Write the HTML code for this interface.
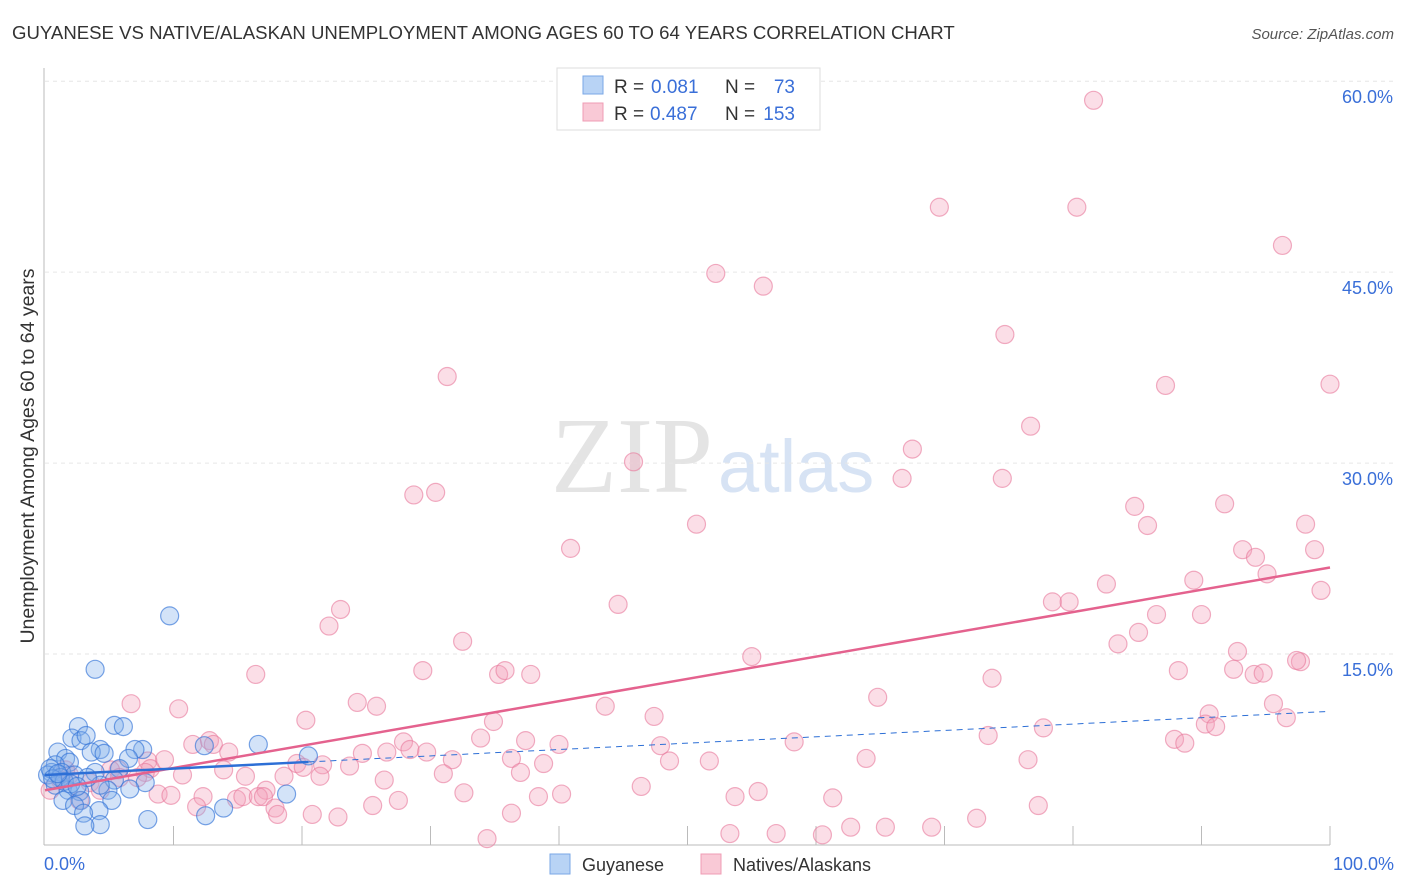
<!DOCTYPE html>
<html><head><meta charset="utf-8"><style>
body{margin:0;background:#fff;font-family:"Liberation Sans",sans-serif;}
svg{display:block}
</style></head><body>
<svg id="chart" width="1406" height="892">
<text x="12" y="39" font-size="18.6" fill="#333">GUYANESE VS NATIVE/ALASKAN UNEMPLOYMENT AMONG AGES 60 TO 64 YEARS CORRELATION CHART</text>
<text x="1394" y="39" font-size="15" fill="#555" font-style="italic" text-anchor="end">Source: ZipAtlas.com</text>
<text x="713" y="492" font-size="108" fill="#e4e4e4" text-anchor="end" font-family="Liberation Serif,serif">ZIP</text>
<text x="718" y="492" font-size="74" fill="#d7e3f4">atlas</text>
<text transform="translate(34,456) rotate(-90)" font-size="19.5" fill="#333" text-anchor="middle">Unemployment Among Ages 60 to 64 years</text>
<g id="grid"></g><g id="axes"></g><g id="pts"></g><g id="lines"></g>
<g>
<rect x="557" y="68" width="263" height="62" fill="#fff" stroke="#ddd"/>
<rect x="583" y="76" width="20" height="18" fill="#b8d3f5" stroke="#7aa7e6"/>
<rect x="583" y="103" width="20" height="18" fill="#f9c9d6" stroke="#ef9cb4"/>
<text x="614" y="93" font-size="19" fill="#333">R =</text>
<text x="651" y="93" font-size="19" fill="#3a6fd8">0.081</text>
<text x="725" y="93" font-size="19" fill="#333">N =</text>
<text x="795" y="93" font-size="19" fill="#3a6fd8" text-anchor="end">73</text>
<text x="614" y="120" font-size="19" fill="#333">R =</text>
<text x="650" y="120" font-size="19" fill="#3a6fd8">0.487</text>
<text x="725" y="120" font-size="19" fill="#333">N =</text>
<text x="795" y="120" font-size="19" fill="#3a6fd8" text-anchor="end">153</text>
</g>
<g>
<rect x="550" y="854" width="20" height="20" fill="#b8d3f5" stroke="#7aa7e6"/>
<text x="582" y="871" font-size="18" fill="#333">Guyanese</text>
<rect x="701" y="854" width="20" height="20" fill="#f9c9d6" stroke="#ef9cb4"/>
<text x="733" y="871" font-size="18" fill="#333">Natives/Alaskans</text>
</g>
</svg>
<script>
const yTicks=[15,30,45,60];
const yTickLabels=["15.0%","30.0%","45.0%","60.0%"];
const xEndLabels=["0.0%","100.0%"];
const blueX=[9.7,3.9,2.6,5.4,6.1,2.1,2.8,3.2,16.6,12.4,7.6,7.0,4.3,3.6,1.0,4.6,1.6,20.5,6.5,1.9,0.8,5.8,0.5,0.2,1.3,2.3,3.9,5.4,7.8,0.8,1.8,2.7,4.9,6.6,4.3,18.8,1.4,2.8,5.2,2.3,4.2,3.0,13.9,12.5,4.3,3.1,8.0,0.4,1.2,3.3,1.5,2.0,0.6,1.0,2.5];
const blueY=[18.0,13.8,9.3,9.4,9.3,8.4,8.2,8.6,7.9,7.8,7.5,7.5,7.5,7.3,7.3,7.2,6.8,7.0,6.8,6.5,6.3,6.0,5.7,5.5,5.7,5.5,5.7,5.1,4.9,4.7,4.3,4.2,4.3,4.4,4.7,4.0,3.5,3.5,3.5,3.1,2.7,2.5,2.9,2.3,1.6,1.5,2.0,6.0,5.3,5.3,5.0,4.8,5.2,5.6,4.6];
const pinkX=[81.6,69.6,80.3,96.3,52.2,55.9,74.7,100,87.2,31.3,76.7,67.5,45.8,30.4,28.7,66.7,74.5,84.8,91.8,50.7,85.8,98.1,40.9,93.2,94.2,98.8,95.1,82.6,89.4,99.3,78.4,79.7,44.6,23.0,22.1,86.5,90.0,85.1,32.5,83.5,92.8,55.0,97.7,97.4,92.5,88.2,94.1,94.8,29.4,35.3,35.8,37.8,16.4,73.7,64.8,6.7,10.4,24.3,25.8,43.6,95.6,20.3,34.9,47.4,90.6,90.3,91.1,77.7,96.6,87.9,88.7,73.4,58.3,33.9,37.4,40.0,47.9,27.9,28.4,29.7,26.6,24.7,11.5,12.8,13.1,14.3,9.3,8.0,19.6,20.1,21.6,23.7,31.7,36.3,38.8,51.7,48.6,76.5,63.9,8.2,13.9,10.7,15.6,18.6,21.4,31.0,37.0,26.4,5.7,7.8,46.4,17.2,8.8,9.8,12.3,14.9,15.4,16.6,17.0,32.6,38.4,40.2,27.5,53.7,55.5,61.3,77.3,17.9,18.1,25.5,20.8,22.8,36.3,72.5,62.7,65.4,69.0,53.3,56.9,60.5,34.4,11.8,0.4,1.2,1.9,3.5,4.3,5.1,5.8,7.2,2.7,1.6];
const pinkY=[58.5,50.1,50.1,47.1,44.9,43.9,40.1,36.2,36.1,36.8,32.9,31.1,30.1,27.7,27.5,28.8,28.8,26.6,26.8,25.2,25.1,25.2,23.3,23.2,22.6,23.2,21.3,20.5,20.8,20.0,19.1,19.1,18.9,18.5,17.2,18.1,18.1,16.7,16.0,15.8,15.2,14.8,14.4,14.5,13.8,13.7,13.4,13.5,13.7,13.4,13.7,13.4,13.4,13.1,11.6,11.1,10.7,11.2,10.9,10.9,11.1,9.8,9.7,10.1,10.3,9.5,9.3,9.2,10.0,8.3,8.0,8.6,8.1,8.4,8.2,7.9,7.8,8.1,7.5,7.3,7.3,7.2,7.9,8.2,7.9,7.3,6.7,6.6,6.4,6.1,6.3,6.2,6.7,6.8,6.4,6.6,6.6,6.7,6.8,6.0,5.9,5.5,5.4,5.4,5.4,5.6,5.7,5.1,5.9,5.7,4.6,4.3,4.0,3.9,3.8,3.6,3.8,3.8,3.8,4.1,3.8,4.0,3.5,3.8,4.2,3.7,3.1,2.9,2.4,3.1,2.4,2.2,2.5,2.1,1.4,1.4,1.4,0.9,0.9,0.8,0.5,3.0,4.3,5.1,5.5,4.9,4.3,5.9,5.3,5.3,3.5,5.9];
const blueFit=[5.5,0.05], pinkFit=[4.3,0.175];
const NS="http://www.w3.org/2000/svg";
const X0=45,X1=1330,Y0=845,YPX=12.73;
const sx=v=>X0+v*(X1-X0)/100, sy=v=>Y0-v*YPX;
function mk(t,a,p){const e=document.createElementNS(NS,t);for(const k in a)e.setAttribute(k,a[k]);p.appendChild(e);return e;}
const grid=document.getElementById('grid'),axes=document.getElementById('axes'),pts=document.getElementById('pts'),lines=document.getElementById('lines');
yTicks.forEach((v,i)=>{
 const l=mk('line',{x1:X0,x2:1394,y1:sy(v),y2:sy(v),stroke:'#e6e6e6','stroke-dasharray':'4,4'},grid);
 
 
 const t=mk('text',{x:1393,y:sy(v)+22,'font-size':18,fill:'#3a6fd8','text-anchor':'end'},grid);
 t.textContent=yTickLabels[i];
 
 
});
let ax=mk('line',{x1:X0-1,x2:X0-1,y1:68,y2:Y0,stroke:'#bbb'},axes);


ax=mk('line',{x1:X0-1,x2:X1,y1:Y0,y2:Y0,stroke:'#bbb'},axes);


for(let k=1;k<=10;k++){const tk=mk('line',{x1:sx(k*10),x2:sx(k*10),y1:Y0-19,y2:Y0,stroke:'#bbb'},axes);
 
 }
[[0,'start',44],[100,'end',1394]].forEach((d,i)=>{const t=mk('text',{x:d[2],y:870,'font-size':18,fill:'#3a6fd8','text-anchor':d[1]},axes);t.textContent=xEndLabels[i];
 
 });
pinkX.forEach((v,i)=>{const c=mk('circle',{cx:sx(v),cy:sy(pinkY[i]),r:9,fill:'rgba(244,160,185,0.35)',stroke:'rgba(232,120,155,0.6)','stroke-width':1.2},pts);
 
 });
blueX.forEach((v,i)=>{const c=mk('circle',{cx:sx(v),cy:sy(blueY[i]),r:9,fill:'rgba(130,175,235,0.35)',stroke:'rgba(50,115,215,0.65)','stroke-width':1.2},pts);
 
 });
let ln=mk('line',{x1:sx(0),y1:sy(pinkFit[0]),x2:sx(100),y2:sy(pinkFit[0]+pinkFit[1]*100),stroke:'#e4628e','stroke-width':2.5},lines);


ln=mk('line',{x1:sx(0),y1:sy(blueFit[0]),x2:sx(20.5),y2:sy(blueFit[0]+blueFit[1]*20.5),stroke:'#2d6fd6','stroke-width':2.5},lines);


ln=mk('line',{x1:sx(20.5),y1:sy(blueFit[0]+blueFit[1]*20.5),x2:sx(100),y2:sy(blueFit[0]+blueFit[1]*100),stroke:'#2d6fd6','stroke-width':1,'stroke-dasharray':'6,5'},lines);


</script>
</body></html>
